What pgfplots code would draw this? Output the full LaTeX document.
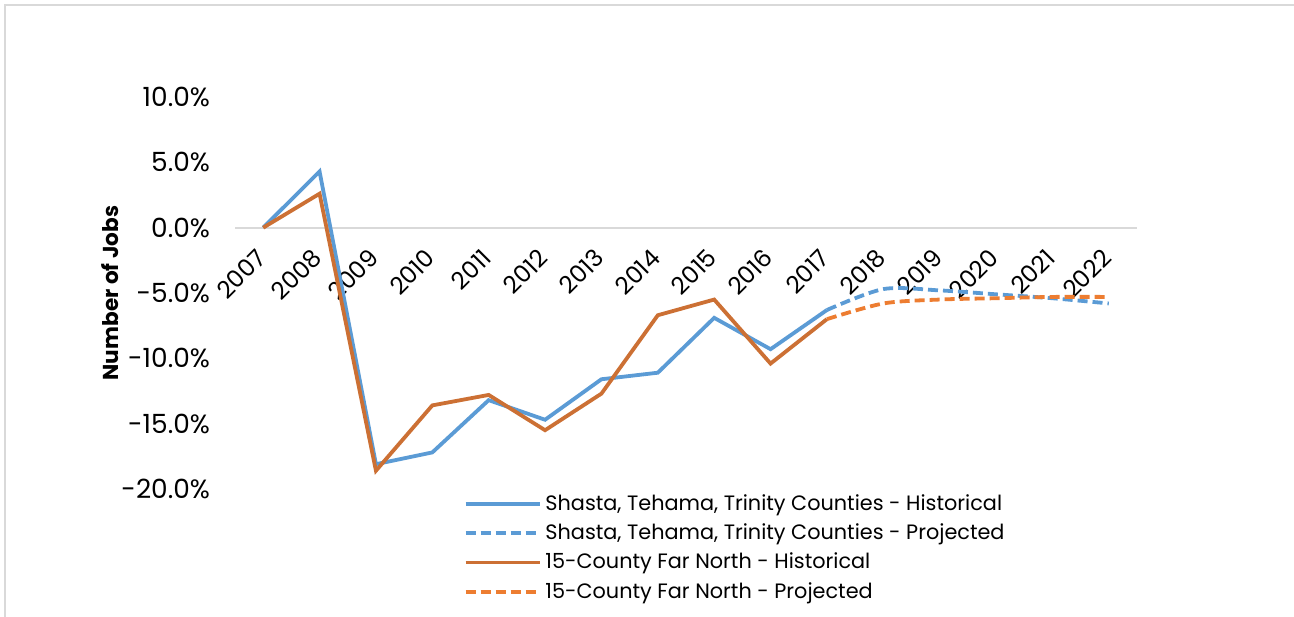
\documentclass[border=0pt]{standalone}
\usepackage{fontspec}
\setmainfont{Poppins}
\usepackage{pgfplots}
\pgfplotsset{compat=1.18}
\definecolor{cblue}{RGB}{91,155,213}
\definecolor{corgH}{RGB}{204,112,52}
\definecolor{corgP}{RGB}{237,125,49}
\definecolor{cgrid}{RGB}{217,217,217}
\begin{document}
\begin{tikzpicture}
\useasboundingbox (0pt,0pt) rectangle (647pt,-308pt);
\draw[cgrid, line width=1pt] (2.5pt,-400pt) -- (2.5pt,-2.5pt) -- (700pt,-2.5pt);
\begin{axis}[
  at={(117.5pt,-244.5pt)}, anchor=south west,
  scale only axis, width=451pt, height=196pt,
  xmin=2006.5, xmax=2022.5, ymin=-20, ymax=10,
  axis x line=middle, axis y line=left,
  x axis line style={cgrid, line width=1pt, -},
  y axis line style={draw=none},
  major tick length=0pt,
  xtick={2007,...,2022},
  ytick={-20,-15,...,10},
  x tick label style={/pgf/number format/1000 sep={}},
  xticklabel style={xshift=1.5pt, yshift=-10.5pt, rotate=45, anchor=east, font=\fontsize{12}{14}\selectfont},
  yticklabel={\pgfmathprintnumber[fixed,fixed zerofill,precision=1]{\tick}\%},
  yticklabel style={font=\fontsize{13.2}{15}\selectfont, xshift=-9pt},
  /pgf/number format/assume math mode=true,
  ylabel={\bfseries Number of Jobs},
  every axis y label/.style={at={(rel axis cs:0,0.5)}, xshift=-62.5pt, rotate=90, anchor=center, font=\fontsize{10.8}{13}\selectfont},
  legend style={at={(0.253,0)}, anchor=north west, draw=none, fill=none,
    font=\fontsize{10.4}{13}\selectfont, row sep=1.25pt, yshift=1.5pt, xshift=-3pt},
  legend cell align=left,
  legend image code/.code={\draw[#1] (0pt,0pt) -- (37pt,0pt);},
  clip=false,
]
\addplot[cblue, line width=1.9pt] coordinates {(2007,0)(2008,4.3)(2009,-18.1)(2010,-17.2)(2011,-13.2)(2012,-14.7)(2013,-11.6)(2014,-11.1)(2015,-6.9)(2016,-9.3)(2017,-6.3)};
\addlegendentry{Shasta, Tehama, Trinity Counties - Historical}
\addplot[cblue, line width=1.9pt, dash pattern=on 5pt off 2.5pt, smooth, tension=0.5] coordinates {(2017,-6.3)(2018,-4.7)(2019,-4.8)(2020,-5.1)(2021,-5.4)(2022,-5.8)};
\addlegendentry{Shasta, Tehama, Trinity Counties - Projected}
\addplot[corgH, line width=1.9pt] coordinates {(2007,0)(2008,2.6)(2009,-18.6)(2010,-13.6)(2011,-12.8)(2012,-15.5)(2013,-12.7)(2014,-6.7)(2015,-5.5)(2016,-10.4)(2017,-7.0)};
\addlegendentry{15-County Far North - Historical}
\addplot[corgP, line width=1.9pt, dash pattern=on 5pt off 2.5pt, smooth, tension=0.5] coordinates {(2017,-7.0)(2018,-5.8)(2019,-5.5)(2020,-5.4)(2021,-5.3)(2022,-5.3)};
\addlegendentry{15-County Far North - Projected}
\end{axis}
\end{tikzpicture}
\end{document}
